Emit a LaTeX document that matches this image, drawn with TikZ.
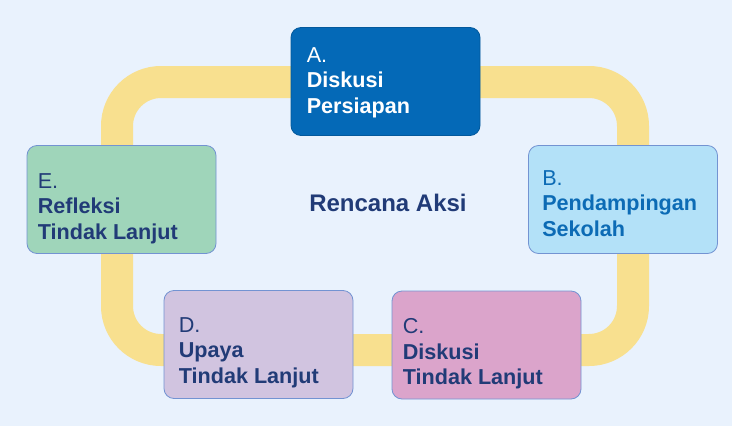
\documentclass[tikz,border=0pt]{standalone}
\usepackage{fontspec}
\setmainfont{Liberation Sans}
\usetikzlibrary{positioning}

\definecolor{bgblue}{HTML}{E9F2FD}
\definecolor{trackyellow}{HTML}{F8E08F}
\definecolor{boxedge}{HTML}{7393D2}
\definecolor{navytext}{HTML}{213B77}
\definecolor{fillA}{HTML}{0469B7}
\definecolor{fillB}{HTML}{B3E1F8}
\definecolor{textB}{HTML}{0C6BB5}
\definecolor{fillC}{HTML}{DBA4CB}
\definecolor{fillD}{HTML}{D1C4E0}
\definecolor{fillE}{HTML}{9FD5BA}

\tikzset{
  track/.style={draw=trackyellow, line width=32pt, rounded corners=44pt},
  stage/.style={draw=boxedge, line width=0.8pt, rounded corners=10pt,
    minimum width=189pt, minimum height=108pt, inner sep=0pt},
  stagetext/.style={anchor=north west, inner sep=0pt, align=left,
    font=\fontsize{21.6}{25.5}\selectfont},
}

\begin{document}
\begin{tikzpicture}[x=1pt,y=-1pt]
	% Background
	\fill[bgblue] (0,0) rectangle (732,426);
	\useasboundingbox (0,0) rectangle (732,426);

	% Yellow loop
	\coordinate (trackNW) at (117,82);
	\coordinate (trackSE) at (633,350);
	\draw[track] (trackNW) rectangle (trackSE);

	% Stages
	\node[stage,fill=fillA,draw=fillA!85!black] (stageA) at (385.5,81.5) {};
	\node[stage,fill=fillB] (stageB) at (623,199.5) {};
	\node[stage,fill=fillC] (stageC) at (486.5,345) {};
	\node[stage,fill=fillD] (stageD) at (258.5,344.5) {};
	\node[stage,fill=fillE] (stageE) at (121.5,199.5) {};

	% Stage texts
	\node[stagetext,text=white] (textA) at ([xshift=16pt,yshift=-20pt]stageA.north west) {A.\\\textbf{Diskusi}\\\textbf{Persiapan}};
	\node[stagetext,text=textB] (textB) at ([xshift=14pt,yshift=-25pt]stageB.north west) {B.\\\textbf{Pendampingan}\\\textbf{Sekolah}};
	\node[stagetext,text=navytext] (textC) at ([xshift=11pt,yshift=-28pt]stageC.north west) {C.\\\textbf{Diskusi}\\\textbf{Tindak Lanjut}};
	\node[stagetext,text=navytext] (textD) at ([xshift=15pt,yshift=-27pt]stageD.north west) {D.\\\textbf{Upaya}\\\textbf{Tindak Lanjut}};
	\node[stagetext,text=navytext] (textE) at ([xshift=11pt,yshift=-28pt]stageE.north west) {E.\\\textbf{Refleksi}\\\textbf{Tindak Lanjut}};

	% Title
	\node[font=\bfseries\fontsize{24}{28}\selectfont,text=navytext] (title) at (388,203) {Rencana Aksi};
\end{tikzpicture}
\end{document}
